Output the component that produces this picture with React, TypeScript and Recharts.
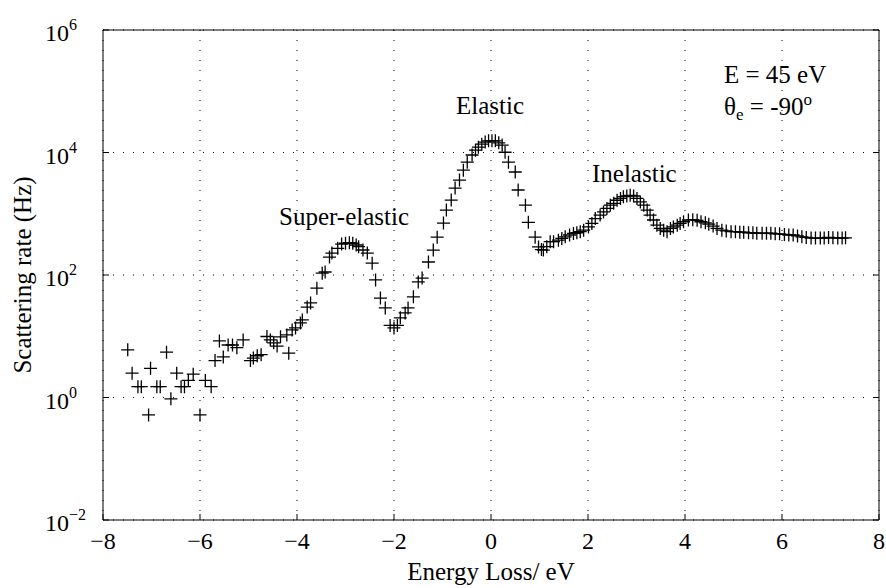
import { ScatterChart, Scatter, XAxis, YAxis, CartesianGrid } from "recharts"

const energy = [
  -7.49, -7.4, -7.28, -7.21, -7.06, -7.02, -6.89, -6.82, -6.69, -6.6, -6.48, -6.39, -6.32, -6.24, -6.14, -6.0,
  -5.89, -5.77, -5.69, -5.6, -5.52, -5.42, -5.33, -5.24, -5.11, -4.96, -4.9, -4.82, -4.74, -4.62, -4.55, -4.48,
  -4.41, -4.34, -4.21, -4.17, -4.1, -4.03, -3.93, -3.89, -3.79, -3.72, -3.59, -3.48, -3.42, -3.33, -3.28, -3.16,
  -3.08, -3.0, -2.92, -2.85, -2.78, -2.73, -2.64, -2.55, -2.45, -2.38, -2.28, -2.18, -2.08, -2.0, -1.93, -1.87,
  -1.77, -1.71, -1.6, -1.5, -1.42, -1.29, -1.19, -1.11, -0.98, -0.92, -0.82, -0.74, -0.65, -0.57, -0.49, -0.39,
  -0.32, -0.26, -0.19, -0.12, -0.05, 0.02, 0.09, 0.16, 0.23, 0.29, 0.36, 0.5, 0.56, 0.71, 0.77, 0.91,
  0.98, 1.04, 1.08, 1.15, 1.22, 1.29, 1.39, 1.46, 1.53, 1.62, 1.7, 1.77, 1.84, 1.91, 2.01, 2.08,
  2.15, 2.25, 2.32, 2.39, 2.46, 2.53, 2.6, 2.67, 2.73, 2.8, 2.87, 2.94, 3.01, 3.08, 3.15, 3.22,
  3.28, 3.35, 3.42, 3.49, 3.56, 3.63, 3.7, 3.76, 3.84, 3.9, 3.97, 4.07, 4.16, 4.25, 4.33, 4.42,
  4.49, 4.58, 4.66, 4.76, 4.85, 4.95, 5.04, 5.13, 5.21, 5.31, 5.4, 5.48, 5.59, 5.68, 5.77, 5.86,
  5.95, 6.05, 6.14, 6.23, 6.32, 6.41, 6.5, 6.6, 6.69, 6.79, 6.87, 6.96, 7.05, 7.15, 7.24, 7.31,
]

const rate = [
  6.0, 2.5, 1.5, 1.5, 0.52, 3.0, 1.5, 1.5, 5.5, 0.95, 2.5, 1.5, 1.5, 1.9, 2.4, 0.52,
  1.9, 1.5, 4.0, 8.4, 4.6, 7.2, 7.2, 6.5, 8.7, 4.0, 4.4, 4.8, 5.0, 9.9, 8.7, 7.8,
  6.9, 9.8, 10.5, 5.3, 12.7, 13.7, 16.5, 18.5, 30, 35, 61, 107, 112, 196, 228, 273,
  320, 330, 336, 330, 309, 290, 256, 228, 156, 83, 42, 29, 15, 13.7, 15, 20,
  24, 29, 44, 77, 89, 163, 255, 415, 705, 1150, 1670, 2630, 3550, 5150, 6950, 9100,
  10900, 12200, 13700, 14800, 15500, 15500, 15500, 14400, 13200, 10100, 6950, 4800, 2440, 1380, 725, 415,
  287, 260, 255, 290, 350, 350, 370, 395, 420, 450, 478, 490, 510, 540, 610, 695,
  835, 950, 1070, 1220, 1380, 1480, 1660, 1780, 1900, 1950, 2000, 1950, 1780, 1560, 1380, 1150,
  950, 790, 650, 575, 540, 510, 575, 610, 650, 695, 740, 790, 800, 780, 740, 710,
  675, 630, 575, 540, 525, 510, 510, 500, 500, 490, 490, 480, 480, 480, 480, 470,
  470, 460, 450, 450, 435, 420, 410, 400, 400, 400, 400, 410, 405, 400, 400, 405,
]

const xTicks = [-8, -6, -4, -2, 0, 2, 4, 6, 8]
const yTicks = [0.01, 1, 100, 10000, 1000000]
const yExp = ["−2", "0", "2", "4", "6"]

const data = energy.map((e, i) => ({ e, r: rate[i] }))

// serif look of the original figure
const txt = { fontFamily: "'Liberation Serif', 'Times New Roman', 'DejaVu Serif', serif", fill: "#000" }

const BottomTick = (props: any) => {
  const { x, y, payload } = props
  return (
    <g>
      <line x1={x} y1={y} x2={x} y2={y - 6} stroke="#000" />
      <text x={x} y={y + 29} textAnchor="middle" fontSize={24} style={txt}>
        {String(payload.value).replace("-", "−")}
      </text>
    </g>
  )
}

const TopTick = (props: any) => {
  const { x, y } = props
  return <line x1={x} y1={y} x2={x} y2={y + 6} stroke="#000" />
}

const LeftTick = (props: any) => {
  const { x, y, payload } = props
  const idx = yTicks.indexOf(payload.value)
  return (
    <g>
      <line x1={x} y1={y} x2={x + 6} y2={y} stroke="#000" />
      <text x={x - 58} y={y + 11} fontSize={24} style={txt}>
        <tspan>10</tspan>
        <tspan dy={-11} fontSize={16}>{yExp[idx]}</tspan>
      </text>
    </g>
  )
}

const RightTick = (props: any) => {
  const { x, y } = props
  return <line x1={x} y1={y} x2={x - 6} y2={y} stroke="#000" />
}

const Plus = (props: any) => {
  const { cx, cy } = props
  return <path d={`M${cx - 6.5},${cy}h13M${cx},${cy - 6.5}v13`} stroke="#000" strokeWidth={1.3} fill="none" />
}

export default function App() {
  return (
    <div style={{ position: "absolute", left: 0, top: 0, background: "#fff" }}>
      <ScatterChart width={886} height={588} margin={{ top: 0, right: 0, bottom: 0, left: 0 }}>
        <CartesianGrid xAxisId="b" yAxisId="l" stroke="#000" strokeDasharray="1 9" />
        <XAxis
          xAxisId="b"
          type="number"
          dataKey="e"
          domain={[-8, 8]}
          ticks={xTicks}
          interval={0}
          height={68}
          axisLine={{ stroke: "#000" }}
          tickLine={false}
          tickSize={0}
          tickMargin={0}
          tick={<BottomTick />}
        />
        <XAxis
          xAxisId="t"
          orientation="top"
          type="number"
          domain={[-8, 8]}
          ticks={xTicks}
          interval={0}
          height={30}
          axisLine={{ stroke: "#000" }}
          tickLine={false}
          tickSize={0}
          tickMargin={0}
          tick={<TopTick />}
        />
        <YAxis
          yAxisId="l"
          type="number"
          dataKey="r"
          scale="log"
          domain={[0.01, 1000000]}
          allowDataOverflow
          ticks={yTicks}
          interval={0}
          width={103}
          axisLine={{ stroke: "#000" }}
          tickLine={false}
          tickSize={0}
          tickMargin={0}
          tick={<LeftTick />}
        />
        <YAxis
          yAxisId="r"
          orientation="right"
          type="number"
          scale="log"
          domain={[0.01, 1000000]}
          allowDataOverflow
          ticks={yTicks}
          interval={0}
          width={7}
          axisLine={{ stroke: "#000" }}
          tickLine={false}
          tickSize={0}
          tickMargin={0}
          tick={<RightTick />}
        />
        <Scatter xAxisId="b" yAxisId="l" data={data} shape={<Plus />} isAnimationActive={false} />

        <text x={279} y={225} fontSize={25} style={txt}>Super-elastic</text>
        <text x={456} y={114} fontSize={25} style={txt}>Elastic</text>
        <text x={592} y={182} fontSize={25} style={txt}>Inelastic</text>
        <text x={724} y={83} fontSize={25} style={txt}>E = 45 eV</text>
        <text x={724} y={115} fontSize={25} style={txt}>
          <tspan>θ</tspan>
          <tspan dy={5} fontSize={17}>e</tspan>
          <tspan dy={-5}> = -90</tspan>
          <tspan dy={-10} fontSize={17}>o</tspan>
        </text>
        <text x={491} y={580} textAnchor="middle" fontSize={25} style={txt}>Energy Loss/ eV</text>
        <text
          x={22}
          y={275}
          textAnchor="middle"
          dominantBaseline="central"
          transform="rotate(-90 22 275)"
          fontSize={25}
          style={txt}
        >
          Scattering rate (Hz)
        </text>
      </ScatterChart>
    </div>
  )
}
